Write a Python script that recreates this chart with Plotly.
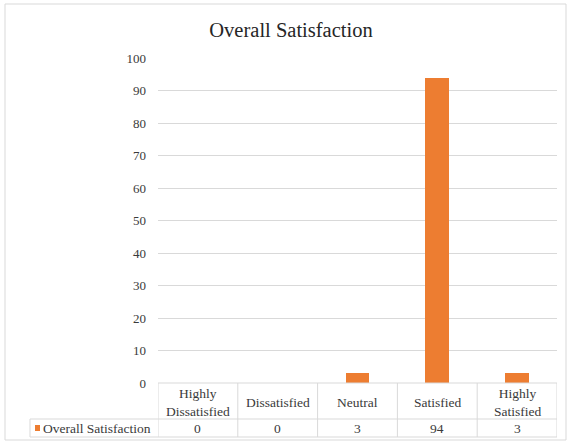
import plotly.graph_objects as go

categories = ["Highly Dissatisfied", "Dissatisfied", "Neutral", "Satisfied", "Highly Satisfied"]
header_labels = ["Highly<br>Dissatisfied", "Dissatisfied", "Neutral", "Satisfied", "Highly<br>Satisfied"]
values = [0, 0, 3, 94, 3]
series_name = "Overall Satisfaction"
title_text = "Overall Satisfaction"

W, H = 568, 443
L, R, T, B = 158, 11, 58, 60
PW, PH = W - L - R, H - T - B
FONT = "Liberation Serif"
ORANGE = "#ED7D31"
GRID = "#D9D9D9"
TXT = "#3a3a3a"

def xp(px):
    return (px - L) / PW

def yp(py):
    return (H - B - py) / PH

fig = go.Figure()
fig.add_trace(go.Bar(
    x=list(range(len(categories))), y=values, width=0.3,
    marker=dict(color=ORANGE, line=dict(width=0)), name=series_name,
    showlegend=False, hoverinfo="y"))

shapes = []
annos = []
line = dict(color=GRID, width=1)
y_head_bot = yp(419)
y_val_bot = yp(437)
shapes.append(dict(type="line", xref="paper", yref="paper", x0=0, x1=1, y0=0, y1=0, line=line))
shapes.append(dict(type="line", xref="paper", yref="paper", x0=xp(30), x1=1, y0=y_head_bot, y1=y_head_bot, line=line))
shapes.append(dict(type="line", xref="paper", yref="paper", x0=xp(30), x1=1, y0=y_val_bot, y1=y_val_bot, line=line))
for i in range(len(categories) + 1):
    xv = i - 0.5
    shapes.append(dict(type="line", xref="x", yref="paper", x0=xv, x1=xv, y0=0, y1=y_val_bot, line=line))
shapes.append(dict(type="line", xref="paper", yref="paper", x0=xp(30), x1=xp(30), y0=y_head_bot, y1=y_val_bot, line=line))
shapes.append(dict(type="rect", xref="paper", yref="paper", x0=xp(35), x1=xp(40), y0=yp(431), y1=yp(425),
                   fillcolor=ORANGE, line=dict(width=0)))
shapes.append(dict(type="rect", xref="paper", yref="paper", x0=xp(5), x1=xp(566), y0=yp(4), y1=yp(440),
                   line=dict(color="#D9D9D9", width=1), fillcolor="rgba(0,0,0,0)", layer="below"))

for i, (lab, v) in enumerate(zip(header_labels, values)):
    annos.append(dict(x=i, y=yp(402), xref="x", yref="paper", text=lab, showarrow=False,
                      font=dict(family=FONT, size=13.5, color=TXT), align="center",
                      yanchor="middle", xanchor="center"))
    annos.append(dict(x=i, y=yp(428), xref="x", yref="paper", text=str(v), showarrow=False,
                      font=dict(family=FONT, size=13.5, color=TXT),
                      yanchor="middle", xanchor="center"))
annos.append(dict(x=xp(41), y=yp(428), xref="paper", yref="paper", text=series_name, showarrow=False,
                  font=dict(family=FONT, size=13.5, color=TXT), xanchor="left", yanchor="middle"))

fig.update_layout(
    width=W, height=H,
    margin=dict(l=L, r=R, t=T, b=B, pad=0),
    paper_bgcolor="white", plot_bgcolor="white",
    font=dict(family=FONT),
    title=dict(text=title_text, x=291 / W, xref="container", y=1 - 30 / H, yref="container",
               xanchor="center", yanchor="middle",
               font=dict(family=FONT, size=20.5, color="#262626")),
    xaxis=dict(range=[-0.5, len(categories) - 0.5], showticklabels=False, showgrid=False,
               zeroline=False, showline=False, ticks=""),
    yaxis=dict(range=[0, 100], dtick=10, showgrid=True, gridcolor=GRID, gridwidth=1,
               zeroline=False, showline=False, ticks="", ticklabelstandoff=11,
               tickfont=dict(family=FONT, size=13, color=TXT)),
    shapes=shapes, annotations=annos,
    bargap=0,
)

fig.write_html("out.html")
